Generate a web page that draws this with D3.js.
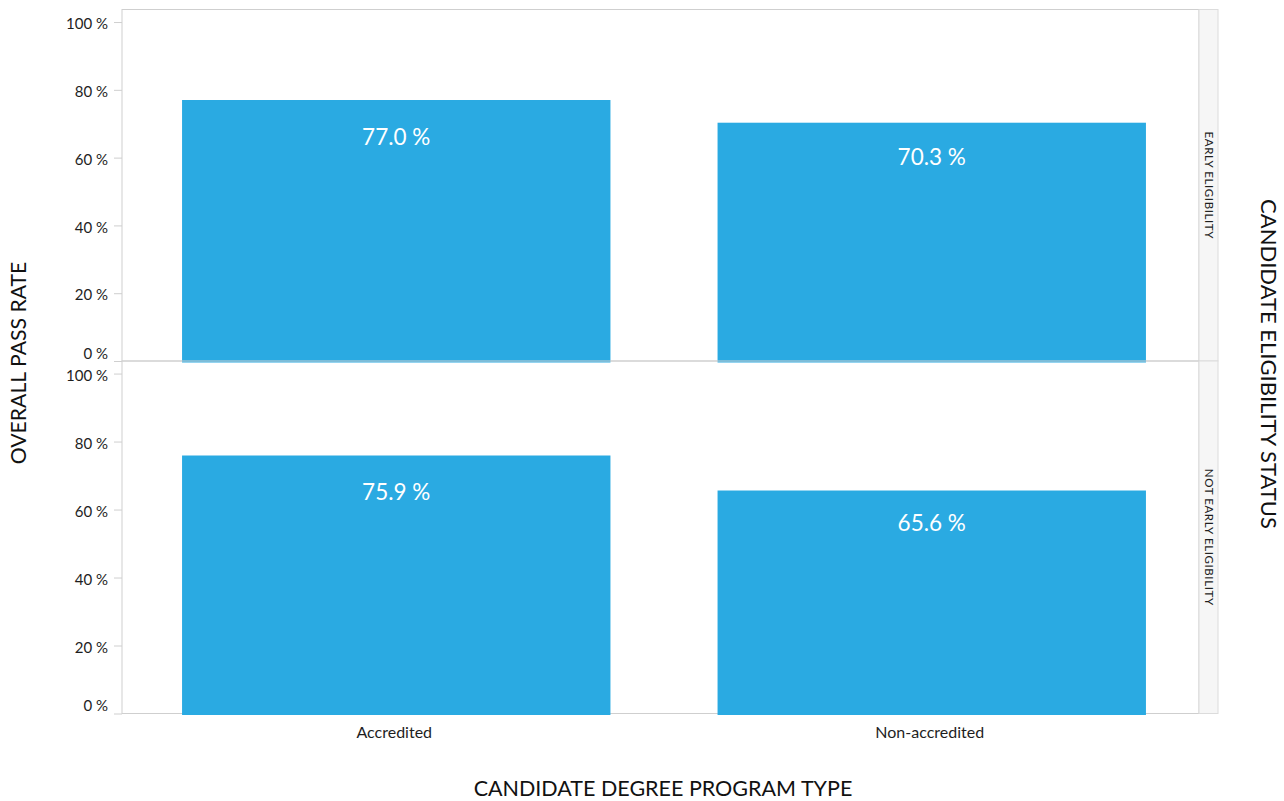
<!DOCTYPE html>
<html>
<head>
<meta charset="utf-8">
<script src="https://cdn.jsdelivr.net/npm/d3@7"></script>
<style>
  body { margin: 0; background: #fff; }
  svg { display: block; font-family: Lato, "Open Sans", sans-serif; }
</style>
</head>
<body>
<svg id="chart" width="1284" height="801"></svg>
<script>
// Program types along the x axis
const programTypes = ["Accredited", "Non-accredited"];
// Facet rows (eligibility status)
const eligibilityRows = ["EARLY ELIGIBILITY", "NOT EARLY ELIGIBILITY"];
// Overall pass rate (%) per row, in program-type order
const earlyRates = [77.0, 70.3];
const notEarlyRates = [75.9, 65.6];
const rowValues = [earlyRates, notEarlyRates];
// Y axis tick values
const yTicks = [0, 20, 40, 60, 80, 100];

const svg = d3.select("#chart");

const panelLeft = 122, panelRight = 1199;
const stripW = 19;
const rows = [
  { top: 9.5, bottom: 361 },
  { top: 361, bottom: 713.5 }
];

const x = d3.scaleBand()
  .domain(programTypes)
  .range([128.5, 1199.5])
  .paddingInner(0.2)
  .paddingOuter(0.1);

const barColor = "#2aaae2";
const frameColor = "#cfcfcf";
const textColor = "#1e1e1e";

rows.forEach((r, i) => {
  const y = d3.scaleLinear()
    .domain([0, 103.7])
    .range([r.bottom, r.top]);

  const g = svg.append("g");

  // panel frame
  g.append("rect")
    .attr("x", panelLeft).attr("y", r.top)
    .attr("width", panelRight - panelLeft).attr("height", r.bottom - r.top)
    .attr("fill", "none").attr("stroke", frameColor).attr("stroke-width", 1);

  // facet strip
  g.append("rect")
    .attr("x", panelRight).attr("y", r.top)
    .attr("width", stripW).attr("height", r.bottom - r.top)
    .attr("fill", "#f6f6f6").attr("stroke", "#dcdcdc").attr("stroke-width", 1);
  g.append("text")
    .attr("transform", `translate(${panelRight + stripW / 2 - 4},${(r.top + r.bottom) / 2}) rotate(90)`)
    .attr("text-anchor", "middle")
    .attr("font-size", 11.5)
    .attr("letter-spacing", 0.6)
    .attr("fill", textColor)
    .text(eligibilityRows[i]);

  // bars
  const vals = rowValues[i];
  const barData = programTypes.map((p, j) => ({ p, v: vals[j] }));
  g.selectAll("rect.bar")
    .data(barData)
    .join("rect")
    .attr("class", "bar")
    .attr("x", d => x(d.p))
    .attr("width", x.bandwidth())
    .attr("y", d => y(d.v))
    .attr("height", d => y(0) - y(d.v) + 1.5)
    .attr("fill", barColor);

  // value labels, placed inside the bar near its top
  g.selectAll("text.val")
    .data(barData)
    .join("text")
    .attr("class", "val")
    .attr("x", d => x(d.p) + x.bandwidth() / 2)
    .attr("y", d => y(d.v * 0.865) + 10)
    .attr("text-anchor", "middle")
    .attr("font-size", 22.5)
    .attr("fill", "#fff")
    .text(d => d.v.toFixed(1) + " %");

  // y axis
  const axis = d3.axisLeft(y)
    .tickValues(yTicks)
    .tickSize(8)
    .tickPadding(6)
    .tickFormat(d => d + " %");
  const ag = g.append("g")
    .attr("transform", `translate(${panelLeft},0)`)
    .call(axis);
  ag.select(".domain").remove();
  ag.selectAll(".tick line").attr("stroke", frameColor);
  ag.selectAll(".tick text")
    .attr("font-size", 15)
    .attr("font-family", "Lato, sans-serif")
    .attr("fill", textColor)
    .attr("dy", d => d === 0 ? "-0.2em" : "0.45em");
});

// x axis category labels
svg.selectAll("text.cat")
  .data(programTypes)
  .join("text")
  .attr("class", "cat")
  .attr("x", d => x(d) + x.bandwidth() / 2 - 2)
  .attr("y", 738)
  .attr("text-anchor", "middle")
  .attr("font-size", 16)
  .attr("fill", textColor)
  .text(d => d);

// axis titles
svg.append("text")
  .attr("x", 663).attr("y", 796)
  .attr("text-anchor", "middle")
  .attr("font-size", 21.5)
  .attr("fill", "#111")
  .text("CANDIDATE DEGREE PROGRAM TYPE");

svg.append("text")
  .attr("transform", "translate(26,363) rotate(-90)")
  .attr("text-anchor", "middle")
  .attr("font-size", 21.2)
  .attr("fill", "#111")
  .text("OVERALL PASS RATE");

svg.append("text")
  .attr("transform", "translate(1261,364) rotate(90)")
  .attr("text-anchor", "middle")
  .attr("font-size", 22)
  .attr("fill", "#111")
  .text("CANDIDATE ELIGIBILITY STATUS");
</script>
</body>
</html>
